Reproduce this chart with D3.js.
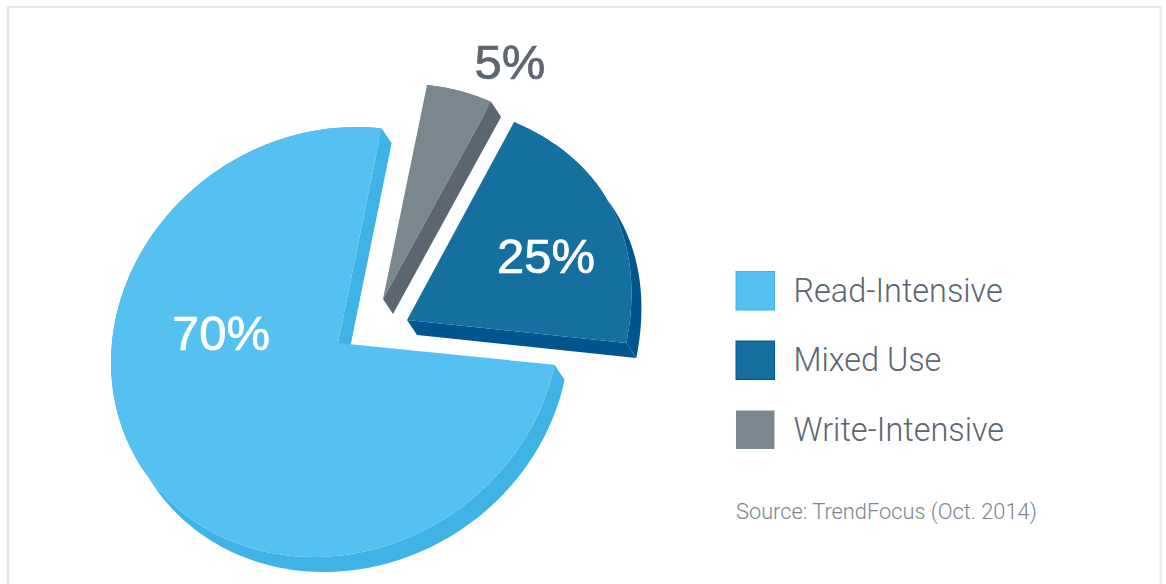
<!DOCTYPE html>
<html>
<head>
<meta charset="utf-8">
<style>
html,body{margin:0;padding:0;background:#fff;overflow:hidden}
text{font-family:"Roboto","Liberation Sans",sans-serif}
</style>
<script src="https://cdn.jsdelivr.net/npm/d3@7"></script>
</head>
<body>
<svg id="chart" width="1166" height="584"></svg>
<script>
// Chart data
const categories = ["Read-Intensive", "Mixed Use", "Write-Intensive"];
const shares = [70, 25, 5];
const sourceNote = "Source: TrendFocus (Oct. 2014)";

// Palette: top face, side wall, legend outline
const topColors = ["#54C1F0", "#15709F", "#79878F"];
const sideColors = ["#40B3E6", "#01558E", "#5B6670"];
const textColor = "#5B6670";

const rad = Math.PI / 180;

// The pie is seen in perspective and each wedge is pulled out of it, so each
// wedge has its own mapping from pie angle to screen position.
const ellipseView = (v) => (t, t0, t1) => {
  const f = (v.phi0 + (t - t0) / (t1 - t0) * (v.phi1 - v.phi0)) * rad;
  return [v.x + v.cx + v.rx * Math.cos(f), v.y + v.cy + v.ry * Math.sin(f + v.tilt * rad)];
};
const planeView = (v) => (t) => {
  const c = Math.cos(t), s = Math.sin(t), w = 1 + v.g * c + v.h * s;
  return [v.x + (v.A * c + v.B * s) / w, v.y + (v.C * c + v.D * s) / w];
};
const apexes = [[338, 343], [407, 320], [383, 299]];
const projections = [
  ellipseView({x: 338, y: 343, cx: -3, cy: -1, rx: 224, ry: 215, tilt: -5.4, phi0: 282, phi1: 11.5}),
  planeView({x: 407, y: 320, A: 307, B: 153, C: 32.2, D: -283, g: 0.40, h: 0.43}),
  planeView({x: 383, y: 299, A: 190, B: 108, C: 86, D: -197, g: 0, h: 0})
];
const depth = [10, 15];
const labelSpots = [[221, 332, "#fff"], [546, 255.5, "#fff"], [510, 61.5, textColor]];

const svg = d3.select("#chart");

svg.append("rect").attr("x", 8).attr("y", 7).attr("width", 1152.5).attr("height", 600)
  .attr("fill", "none").attr("stroke", "#e8e8e8").attr("stroke-width", 2);

const pie = d3.pie().sort(null)
  .startAngle(108 * rad)
  .endAngle(468 * rad);

const shift = p => [p[0] + depth[0], p[1] + depth[1]];
const line = d3.line();

pie(shares).forEach((d, i) => {
  const ts = d3.range(0, 161).map(k => d.startAngle + (d.endAngle - d.startAngle) * k / 160);
  const rim = ts.map(t => projections[i](t, d.startAngle, d.endAngle));
  const apex = apexes[i];
  const g = svg.append("g");

  // Outer wall
  g.append("path").attr("d", line(rim.concat(rim.map(shift).reverse())) + "Z")
    .attr("fill", sideColors[i]);

  // Cut wall facing the viewer
  const edge = rim[0];
  g.append("path").attr("d", line([apex, edge, shift(edge), shift(apex)]) + "Z")
    .attr("fill", sideColors[i]);

  // Top face
  g.append("path").attr("d", line([apex].concat(rim)) + "Z").attr("fill", topColors[i]);
});

labelSpots.forEach((s, i) => {
  svg.append("text").attr("x", s[0]).attr("y", s[1]).attr("dy", "0.36em")
    .attr("text-anchor", "middle").attr("fill", s[2])
    .attr("stroke", s[2]).attr("stroke-width", 0.7)
    .style("font-family", "'Liberation Sans',sans-serif")
    .style("font-size", "49px")
    .text(shares[i] + "%");
});

// Legend
const rowY = d3.scalePoint().domain(categories).range([271, 410]);
categories.forEach((c, i) => {
  const y = rowY(c);
  svg.append("rect").attr("x", 736).attr("y", y + 0.5).attr("width", 38.5).attr("height", 38.5)
    .attr("fill", topColors[i])
    .attr("stroke", i === 2 ? "none" : sideColors[i]).attr("stroke-width", 1);
  svg.append("text").attr("x", 793.5).attr("y", y + 30.5)
    .attr("fill", textColor).style("font-size", "32.4px").style("font-weight", 300).text(c);
});
svg.append("text").attr("x", 736).attr("y", 519).attr("fill", "#7A8791")
  .style("font-size", "21.8px").style("font-weight", 300).text(sourceNote);
</script>
</body>
</html>
